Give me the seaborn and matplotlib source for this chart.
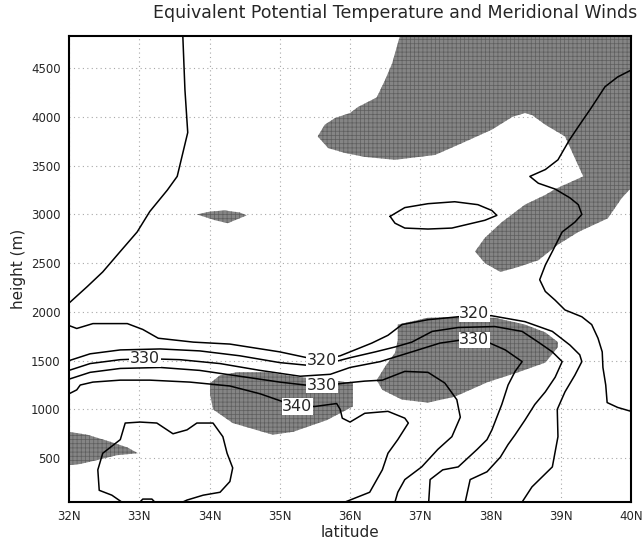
import numpy as np
import pandas as pd
import seaborn as sns
import matplotlib
matplotlib.use("Agg")
import matplotlib.pyplot as plt

# =========================
# DATA (latitude in degrees N, height in m)
# =========================

lat_ticks = [32, 33, 34, 35, 36, 37, 38, 39, 40]
lat_tick_labels = ["32N", "33N", "34N", "35N", "36N", "37N", "38N", "39N", "40N"]
height_ticks = [500, 1000, 1500, 2000, 2500, 3000, 3500, 4000, 4500]

# shaded areas (meridional wind regions)
shade1_lat = [36.71, 40.00, 40.00, 39.87, 39.67, 39.25, 38.96, 38.68, 38.39, 38.14,
              37.92, 37.78, 37.92, 38.16, 38.49, 38.78, 38.92, 39.32, 39.06, 38.78,
              38.59, 38.49, 38.31, 38.02, 37.59, 37.21, 36.64, 36.21, 35.93, 35.69,
              35.54, 35.64, 35.79, 36.00, 36.11, 36.38, 36.50, 36.60]
shade1_h = [4830, 4830, 3270, 3170, 2960, 2820, 2690, 2530, 2460, 2410,
            2500, 2620, 2760, 2920, 3100, 3200, 3260, 3390, 3800, 3920,
            4020, 4040, 4000, 3870, 3730, 3610, 3560, 3590, 3630, 3680,
            3800, 3920, 3990, 4040, 4100, 4200, 4380, 4550]

shade2_lat = [33.82, 34.01, 34.22, 34.43, 34.53, 34.36, 34.26, 34.08]
shade2_h = [3000, 3030, 3040, 3020, 2990, 2940, 2910, 2940]

shade3_lat = [32.00, 32.26, 32.58, 32.83, 32.98, 32.68, 32.40, 32.16, 32.00]
shade3_h = [770, 740, 670, 610, 550, 530, 480, 440, 430]

shade4_lat = [34.01, 34.15, 34.39, 34.82, 35.29, 35.72, 36.04, 36.04, 35.67, 35.19,
              34.90, 34.33, 34.05, 34.01]
shade4_h = [1270, 1350, 1380, 1380, 1330, 1300, 1270, 1030, 890, 770,
            740, 860, 1000, 1150]

shade5_lat = [36.68, 37.11, 37.59, 38.06, 38.49, 38.78, 38.96, 38.96, 38.78, 38.39,
              37.96, 37.49, 37.11, 36.74, 36.46, 36.38, 36.50, 36.64, 36.68]
shade5_h = [1870, 1940, 1950, 1940, 1870, 1790, 1690, 1640, 1480, 1380,
            1280, 1130, 1070, 1100, 1200, 1300, 1440, 1580, 1710]

# equivalent potential temperature contours
c_a_lat = [32.00, 32.11, 32.34, 32.83, 33.05, 33.27, 33.77, 34.29, 35.00, 35.39,
           35.60, 35.86, 36.00, 36.31, 36.54, 36.74, 37.11, 37.54, 37.77, 38.02,
           38.49, 38.88, 39.13, 39.27, 39.30, 39.20, 39.06, 38.95, 38.96, 38.88,
           38.59, 38.45]
c_a_h = [1860, 1830, 1880, 1880, 1820, 1730, 1690, 1670, 1590, 1530,
         1510, 1550, 1590, 1680, 1760, 1870, 1920, 1950, 1970, 1960,
         1900, 1800, 1660, 1560, 1490, 1350, 1180, 1000, 720, 410,
         205, 50]

c_b_lat = [32.00, 32.30, 32.73, 33.30, 33.86, 34.43, 35.00, 35.43, 35.79, 36.00,
           36.36, 36.64, 36.88, 37.17, 37.54, 38.06, 38.45, 38.68, 38.88, 39.02,
           38.92, 38.78, 38.63, 38.49, 38.35, 38.25, 38.14, 37.95, 37.71, 37.64]
c_b_h = [1500, 1570, 1610, 1620, 1600, 1550, 1480, 1450, 1490, 1530,
         1590, 1640, 1690, 1800, 1840, 1850, 1800, 1690, 1590, 1490,
         1330, 1180, 1050, 890, 740, 640, 510, 360, 280, 50]

c_c_lat = [32.00, 32.30, 32.73, 33.12, 33.58, 34.15, 34.72, 35.29, 35.72, 36.00,
           36.43, 36.88, 37.28, 37.57, 37.77, 37.96, 38.21, 38.45, 38.35, 38.25,
           38.16, 38.02, 37.95, 37.81, 37.54, 37.32, 37.14, 37.12]
c_c_h = [1400, 1470, 1510, 1520, 1510, 1470, 1400, 1340, 1360, 1430,
         1490, 1590, 1680, 1710, 1710, 1690, 1610, 1490, 1390, 1250,
         1050, 790, 690, 590, 410, 380, 280, 50]

c_d_lat = [32.00, 32.30, 32.73, 33.30, 33.86, 34.43, 35.00, 35.36, 35.60, 35.93,
           36.21, 36.46, 36.78, 37.11, 37.35, 37.52, 37.57, 37.45, 37.25, 37.02,
           36.78, 36.68, 36.64]
c_d_h = [1310, 1380, 1420, 1430, 1400, 1340, 1280, 1250, 1240, 1270,
         1290, 1300, 1390, 1380, 1270, 1100, 920, 720, 590, 410,
         280, 150, 50]

c_e_lat = [32.00, 32.11, 32.16, 32.34, 32.73, 33.15, 33.72, 34.29, 34.72, 35.00,
           35.25, 35.50, 35.81, 35.86, 35.89, 36.00, 36.21, 36.54, 36.78, 36.83,
           36.68, 36.54, 36.46, 36.28, 35.93]
c_e_h = [1160, 1200, 1250, 1280, 1300, 1300, 1280, 1240, 1160, 1090,
         1030, 1030, 1060, 1000, 910, 870, 960, 980, 910, 860,
         690, 550, 380, 150, 50]

c_slope_lat = [32.00, 32.26, 32.48, 32.73, 32.97, 33.15, 33.40, 33.54, 33.69, 33.65, 33.62]
c_slope_h = [2090, 2260, 2410, 2620, 2820, 3030, 3250, 3390, 3840, 4280, 4830]

c_right_lat = [40.00, 39.81, 39.63, 39.44, 39.25, 39.12, 38.96, 38.78, 38.56, 38.68,
               38.92, 39.13, 39.25, 39.30, 39.20, 39.02, 38.88, 38.78, 38.70, 38.78,
               38.92, 39.06, 39.30, 39.44, 39.53, 39.59, 39.60, 39.64, 39.66, 39.81, 40.00]
c_right_h = [4480, 4410, 4310, 4100, 3900, 3760, 3560, 3460, 3390, 3320,
             3260, 3170, 3100, 3000, 2920, 2820, 2620, 2480, 2330, 2210,
             2120, 2020, 1950, 1870, 1730, 1590, 1430, 1250, 1070, 1020, 980]

c_oval_lat = [36.57, 36.78, 37.11, 37.49, 37.82, 38.02, 38.09, 37.92, 37.45, 37.11,
              36.78, 36.64, 36.57]
c_oval_h = [2980, 3070, 3110, 3130, 3100, 3040, 2990, 2940, 2860, 2850,
            2860, 2910, 2980]

c_low_lat = [32.75, 32.61, 32.43, 32.41, 32.48, 32.73, 32.80, 33.01, 33.25, 33.48,
             33.68, 33.82, 34.05, 34.19, 34.25, 34.33, 34.29, 34.15, 33.91, 33.68, 33.62]
c_low_h = [50, 120, 170, 380, 550, 690, 860, 870, 860, 750,
           790, 860, 860, 720, 550, 400, 260, 150, 120, 70, 50]

c_bump_lat = [33.01, 33.05, 33.18, 33.22]
c_bump_h = [50, 80, 80, 50]

label_text = ["320", "330", "330", "340", "320", "330"]
label_lat = [35.60, 33.08, 35.60, 35.25, 37.77, 37.77]
label_h = [1500, 1520, 1250, 1030, 1980, 1715]

# =========================
# PLOT
# =========================

sns.set_style("white")
plt.rcParams['font.family'] = ['DejaVu Sans']
plt.rcParams['hatch.linewidth'] = 0.5

fig = plt.figure(figsize=(6.42, 5.44), dpi=100)
ax = fig.add_axes([0.1075, 0.0772, 0.8754, 0.8566])

shades = [(shade1_lat, shade1_h), (shade2_lat, shade2_h), (shade3_lat, shade3_h),
          (shade4_lat, shade4_h), (shade5_lat, shade5_h)]
for s_lat, s_h in shades:
    ax.fill(s_lat, s_h, facecolor="#858585", edgecolor="#5e5e5e",
            hatch="++++", lw=0, zorder=1)

contours = [
    (c_a_lat, c_a_h), (c_b_lat, c_b_h), (c_c_lat, c_c_h), (c_d_lat, c_d_h),
    (c_e_lat, c_e_h), (c_slope_lat, c_slope_h), (c_right_lat, c_right_h),
    (c_oval_lat, c_oval_h), (c_low_lat, c_low_h), (c_bump_lat, c_bump_h),
]
for c_lat, c_h in contours:
    df = pd.DataFrame({"lat": c_lat, "h": c_h})
    sns.lineplot(data=df, x="lat", y="h", sort=False, estimator=None,
                 color="black", lw=1.1, ax=ax, zorder=3)

for txt, lx, ly in zip(label_text, label_lat, label_h):
    ax.text(lx, ly, txt, ha="center", va="center", fontsize=11.5, zorder=4,
            bbox=dict(facecolor="white", edgecolor="none", pad=0.5))

ax.set_xlim(32, 40)
ax.set_ylim(50, 4830)
ax.set_xticks(lat_ticks)
ax.set_xticklabels(lat_tick_labels)
ax.set_yticks(height_ticks)
ax.grid(True, color="#a8a8a8", linestyle=(0, (1, 3)), lw=0.8)
ax.set_axisbelow(True)

ax.tick_params(direction="out", length=4, width=1, labelsize=8.5, pad=2)
for sp in ax.spines.values():
    sp.set_color("black")
    sp.set_linewidth(1.5)

ax.set_xlabel("latitude", fontsize=11, labelpad=1)
ax.set_ylabel("height (m)", fontsize=11, labelpad=4)

fig.text(395 / 642, 1 - 13 / 544, "Equivalent Potential Temperature and Meridional Winds",
         ha="center", va="center", fontsize=12.5)

plt.savefig("out.png", dpi=100)
